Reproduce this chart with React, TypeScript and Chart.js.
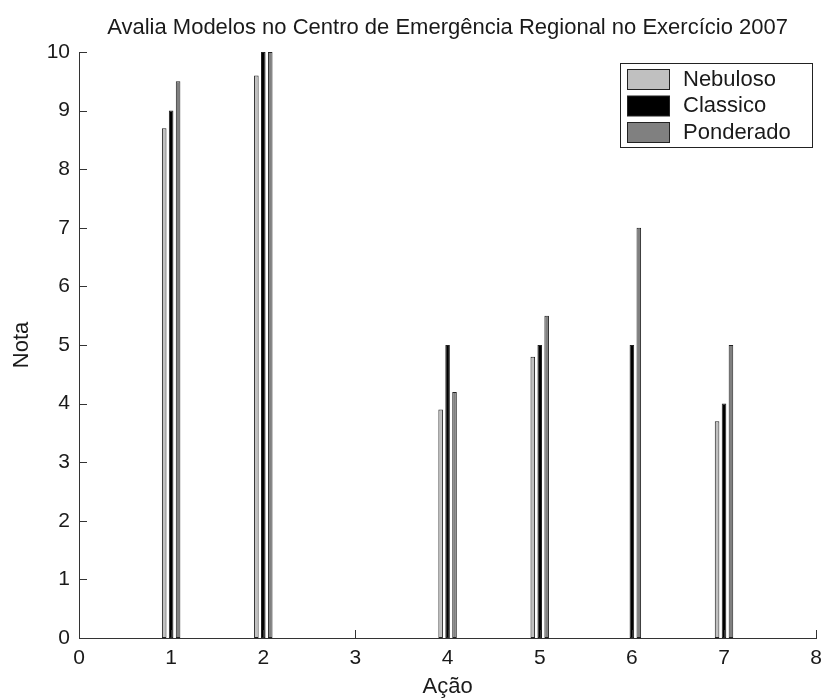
import React, { useEffect, useRef } from 'react';
import { Chart, registerables } from 'chart.js';

Chart.register(...registerables);

const categories = ['0', '1', '2', '3', '4', '5', '6', '7', '8'];
const nebuloso = [null, 8.7, 9.6, null, 3.9, 4.8, null, 3.7, null];
const classico = [null, 9.0, 10, null, 5.0, 5.0, 5.0, 4.0, null];
const ponderado = [null, 9.5, 10, null, 4.2, 5.5, 7.0, 5.0, null];
const seriesNames = ['Nebuloso', 'Classico', 'Ponderado'];
const seriesColors = ['#c0c0c0', '#000000', '#808080'];
const titleText = 'Avalia Modelos no Centro de Emergência Regional no Exercício 2007';
const xTitle = 'Ação';
const yTitle = 'Nota';

const FONT = '"Liberation Sans", Arial, sans-serif';
const FS = 22;
const TFS = 21;
const INK = '#1a1a1a';
const AXIS = '#333333';

const decor = {
  id: 'decor',
  afterDraw(chart: any) {
    const { ctx, chartArea } = chart;
    const { left, right, top, bottom } = chartArea;
    ctx.save();
    // inward ticks
    ctx.strokeStyle = AXIS;
    ctx.lineWidth = 1;
    const ys = chart.scales.y;
    ys.ticks.forEach((t: any) => {
      const p = Math.round(ys.getPixelForValue(t.value)) + 0.5;
      ctx.beginPath();
      ctx.moveTo(left, p);
      ctx.lineTo(left + 8, p);
      ctx.stroke();
    });
    const xs = chart.scales.x;
    categories.forEach((_, i) => {
      const p = Math.round(xs.getPixelForValue(i)) + 0.5;
      ctx.beginPath();
      ctx.moveTo(p, bottom);
      ctx.lineTo(p, bottom - 8);
      ctx.stroke();
    });
    // title
    ctx.fillStyle = INK;
    ctx.font = `${FS}px ${FONT}`;
    ctx.textAlign = 'center';
    ctx.textBaseline = 'middle';
    ctx.fillText(titleText, (left + right) / 2, 28);
    ctx.fillText(xTitle, (left + right) / 2, 687);
    ctx.save();
    ctx.translate(22, (top + bottom) / 2);
    ctx.rotate(-Math.PI / 2);
    ctx.fillText(yTitle, 0, 0);
    ctx.restore();
    // legend
    const bx = 620.5, by = 63.5, bw = 192, bh = 84;
    ctx.fillStyle = '#ffffff';
    ctx.fillRect(bx, by, bw, bh);
    ctx.strokeStyle = '#222';
    ctx.strokeRect(bx, by, bw, bh);
    ctx.textAlign = 'left';
    chart.data.datasets.forEach((ds: any, i: number) => {
      const ry = 69.5 + i * 26.5;
      ctx.fillStyle = ds.backgroundColor;
      ctx.fillRect(627.5, ry, 42, 20);
      ctx.strokeStyle = '#222';
      ctx.strokeRect(627.5, ry, 42, 20);
      ctx.fillStyle = INK;
      ctx.fillText(ds.label, 683, ry + 10);
    });
    ctx.restore();
  },
};

export default function App() {
  const ref = useRef<HTMLCanvasElement>(null);
  useEffect(() => {
    const datasets = [nebuloso, classico, ponderado].map((d, i) => ({
      label: seriesNames[i],
      data: d,
      backgroundColor: seriesColors[i],
      borderColor: '#222222',
      borderWidth: 1,
      borderSkipped: false,
      categoryPercentage: 0.226,
      barPercentage: 0.66,
    }));
    const chart = new Chart(ref.current!, {
      type: 'bar',
      data: { labels: categories, datasets },
      plugins: [decor],
      options: {
        animation: false,
        responsive: false,
        maintainAspectRatio: false,
        layout: { padding: { top: 52, right: 9, left: 0, bottom: 0 } },
        plugins: { legend: { display: false }, title: { display: false }, tooltip: { enabled: false } },
        scales: {
          x: {
            offset: false,
            grid: { display: false, offset: false, drawTicks: false },
            border: { display: true, color: AXIS, width: 1 },
            ticks: { color: INK, font: { family: FONT, size: TFS }, padding: 8, maxRotation: 0, autoSkip: false },
            afterFit: (s: any) => { s.height = 62; },
          },
          y: {
            min: 0,
            max: 10,
            grid: { display: false, drawTicks: false },
            border: { display: true, color: AXIS, width: 1 },
            ticks: { stepSize: 1, color: INK, font: { family: FONT, size: TFS }, padding: 9 },
            afterFit: (s: any) => { s.width = 79; },
          },
        },
      },
    });
    return () => chart.destroy();
  }, []);
  return (
    <div style={{ position: 'fixed', left: 0, top: 0, width: 830, height: 700, background: '#fff' }}>
      <canvas ref={ref} width={830} height={700} style={{ display: 'block', width: 830, height: 700 }} />
    </div>
  );
}
